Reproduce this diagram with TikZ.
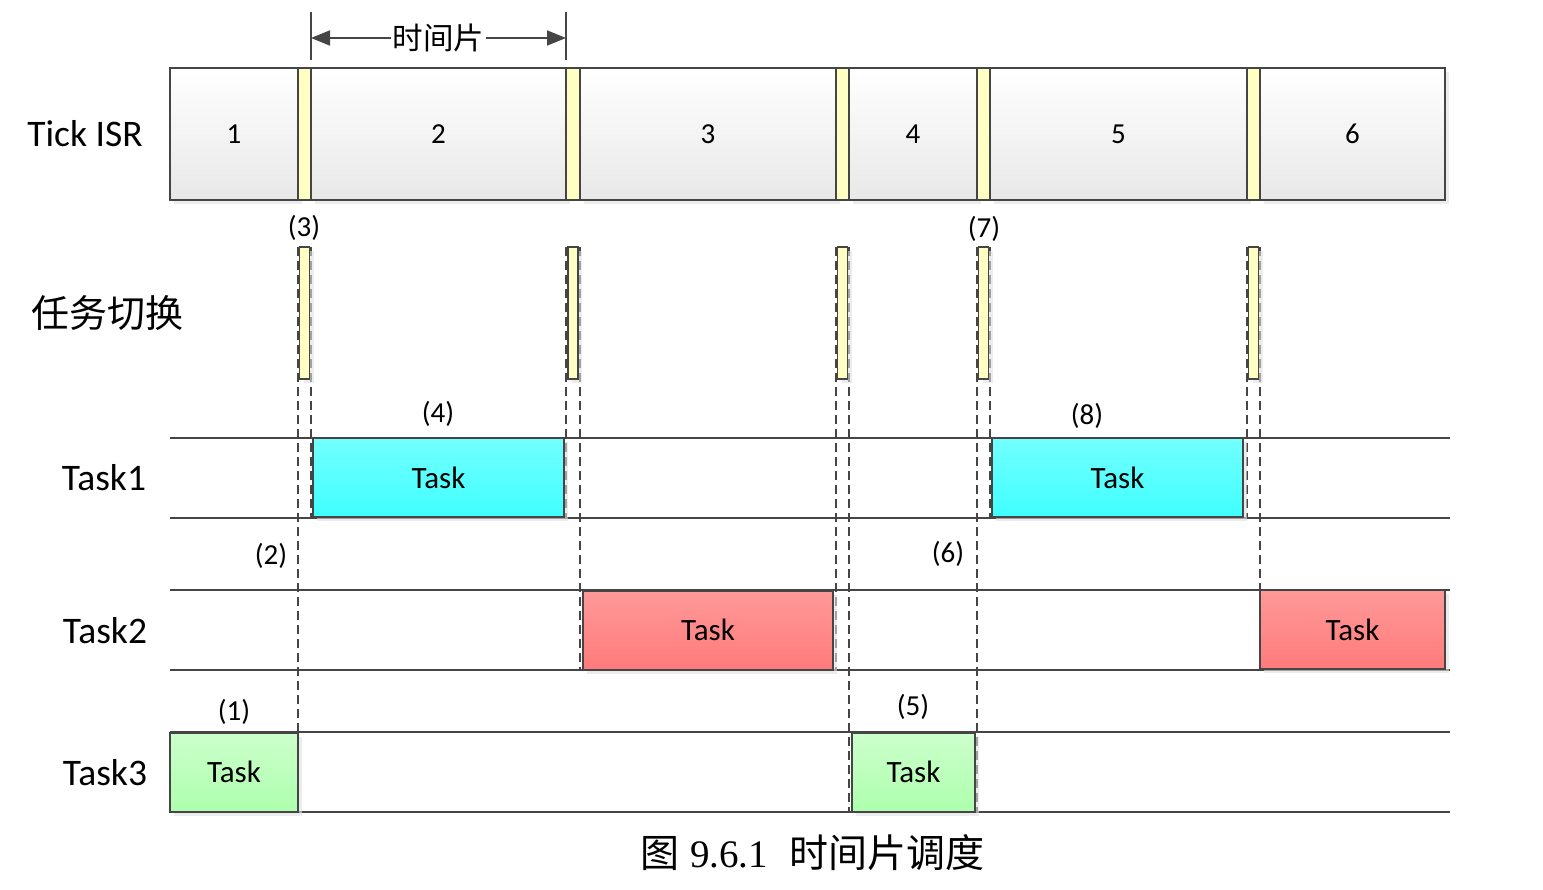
\documentclass[tikz,border=0pt]{standalone}
\usepackage{fontspec}
\setmainfont{Carlito}
\newfontfamily\cjk{Noto Sans CJK SC}
\newfontfamily\tnr{Liberation Serif}
\usetikzlibrary{arrows.meta,shadows}
\definecolor{ln}{HTML}{454545}
\definecolor{ylw}{HTML}{FFFFC4}
\tikzset{
  shd/.style={drop shadow={shadow xshift=4pt,shadow yshift=-4pt,fill=black!12,opacity=0.6}},
  seg/.style={draw=ln,line width=2pt,inner sep=0,outer sep=0,minimum height=132pt,
    top color=white,bottom color=black!9,shd,font=\fontsize{29}{32}\selectfont},
  ystrip/.style={draw=ln,line width=1.5pt,fill=ylw,inner sep=0,outer sep=0,minimum height=132pt},
  sw/.style={draw=ln,line width=1.5pt,fill=ylw,inner sep=0,outer sep=0,minimum width=10pt,minimum height=132pt,shd},
  tbox/.style={draw=ln,line width=2pt,inner sep=0,outer sep=0,minimum height=79pt,shd,font=\fontsize{31}{34}\selectfont},
  cyanbox/.style={tbox,top color=cyan!55!white!100,bottom color=cyan!75},
  redbox/.style={tbox,top color=red!40!white,bottom color=red!52!white},
  greenbox/.style={tbox,top color=green!20!white,bottom color=green!32!white},
  rowlbl/.style={font=\fontsize{37.5}{40}\selectfont},
  num/.style={font=\fontsize{29}{32}\selectfont},
  rowline/.style={draw=ln,line width=1.6pt},
  dsh/.style={draw=ln,line width=1.8pt,dash pattern=on 9pt off 5pt},
}
\begin{document}
\begin{tikzpicture}[x=1pt,y=-1pt]
\useasboundingbox (0,0) rectangle (1543,890);

% row lines
\foreach \yy [count=\i] in {438,518,590,670,732,812}{
  \coordinate (rl\i) at (170,\yy);
  \coordinate (rr\i) at (1450,\yy);
  \draw[rowline] (rl\i) -- (rr\i);
}

% dashed guide lines
\foreach \xx/\ya/\yb [count=\i] in {298/247/732,311/247/517,566/247/517,580/247/670,836/247/670,849/247/812,977/247/812,990/247/517,1247/247/517,1260/247/590}{
  \coordinate (da\i) at (\xx,\ya);
  \coordinate (db\i) at (\xx,\yb);
  \draw[dsh] (da\i) -- (db\i);
}

% Tick ISR row
\node[seg,minimum width=128pt] (s1) at (234,134) {1};
\node[ystrip,minimum width=13pt] (y1) at (304.5,134) {};
\node[seg,minimum width=255pt] (s2) at (438.5,134) {2};
\node[ystrip,minimum width=14pt] (y2) at (573,134) {};
\node[seg,minimum width=256pt] (s3) at (708,134) {3};
\node[ystrip,minimum width=13pt] (y3) at (842.5,134) {};
\node[seg,minimum width=128pt] (s4) at (913,134) {4};
\node[ystrip,minimum width=13pt] (y4) at (983.5,134) {};
\node[seg,minimum width=257pt] (s5) at (1118.5,134) {5};
\node[ystrip,minimum width=13pt] (y5) at (1253.5,134) {};
\node[seg,minimum width=185pt] (s6) at (1352.5,134) {6};

% time slice dimension
\coordinate (ta) at (311,12);
\coordinate (tb) at (311,60);
\coordinate (tc) at (566,12);
\coordinate (td) at (566,60);
\draw[ln,line width=1.6pt] (ta) -- (tb);
\draw[ln,line width=1.6pt] (tc) -- (td);
\coordinate (al) at (311,38);
\coordinate (ar) at (566,38);
\draw[ln,line width=1.8pt,{Triangle[length=19pt,width=15pt]}-{Triangle[length=19pt,width=15pt]}] (al) -- (ar)
  node[midway,fill=white,inner sep=2pt,text=black,font=\cjk\fontsize{30.5}{33}\selectfont] (tl) {时间片};

% task switch strips
\node[sw] (w1) at (304.5,313) {};
\node[sw] (w2) at (573,313) {};
\node[sw] (w3) at (842.5,313) {};
\node[sw] (w4) at (983.5,313) {};
\node[sw] (w5) at (1253.5,313) {};

% task boxes
\node[cyanbox,minimum width=251pt] (k1) at (438.5,477.5) {Task};
\node[cyanbox,minimum width=251pt] (k2) at (1117.5,477.5) {Task};
\node[redbox,minimum width=250pt] (k3) at (708,630) {Task};
\node[redbox,minimum width=185pt] (k4) at (1352.5,629.5) {Task};
\node[greenbox,minimum width=128pt] (k5) at (234,772) {Task};
\node[greenbox,minimum width=123pt] (k6) at (913.5,772) {Task};

% row labels
\node[rowlbl] (lt) at (85,134) {Tick ISR};
\node[font=\cjk\fontsize{38}{41}\selectfont] (lsw) at (107,313) {任务切换};
\node[rowlbl] (l1) at (104,478) {Task1};
\node[rowlbl] (l2) at (105,631) {Task2};
\node[rowlbl] (l3) at (105,773) {Task3};

% step numbers
\node[num] (n1) at (234,712) {(1)};
\node[num] (n2) at (271,556) {(2)};
\node[num] (n3) at (304,228) {(3)};
\node[num] (n4) at (438,414) {(4)};
\node[num] (n5) at (913,707) {(5)};
\node[num] (n6) at (948,554) {(6)};
\node[num] (n7) at (984,229) {(7)};
\node[num] (n8) at (1087,416) {(8)};

% caption
\node[font=\fontsize{39}{42}\selectfont] (cap) at (812,853) {{\cjk 图}\hspace{11pt}{\tnr 9.6.1}\hspace{21pt}{\cjk 时间片调度}};
\end{tikzpicture}
\end{document}
